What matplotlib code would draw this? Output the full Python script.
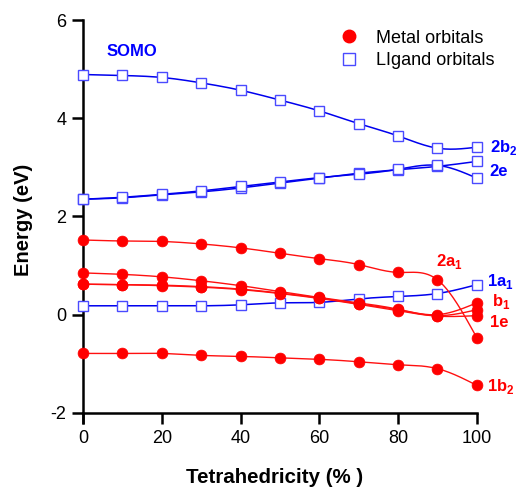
import numpy as np
import matplotlib.pyplot as plt

plt.rcParams["font.family"] = ["Liberation Sans", "DejaVu Sans"]
plt.rcParams["mathtext.fontset"] = "custom"
plt.rcParams["mathtext.rm"] = "Liberation Sans"
plt.rcParams["mathtext.bf"] = "Liberation Sans:bold"
plt.rcParams["axes.unicode_minus"] = False

tetra = [0, 10, 20, 30, 40, 50, 60, 70, 80, 90, 100]

# ligand orbitals
lig_2b2 = [4.89, 4.87, 4.83, 4.72, 4.57, 4.37, 4.15, 3.89, 3.64, 3.39, 3.41]
lig_2e_a = [2.35, 2.38, 2.44, 2.50, 2.58, 2.68, 2.78, 2.88, 2.95, 3.02, 3.12]
lig_2e_b = [2.35, 2.39, 2.45, 2.52, 2.61, 2.70, 2.79, 2.86, 2.96, 3.04, 2.78]
lig_1a1 = [0.18, 0.18, 0.18, 0.18, 0.20, 0.24, 0.25, 0.32, 0.37, 0.43, 0.61]

# metal orbitals
met_2a1 = [1.52, 1.50, 1.49, 1.44, 1.36, 1.25, 1.14, 1.02, 0.86, 0.71, -0.47]
met_b1 = [0.85, 0.82, 0.77, 0.69, 0.59, 0.47, 0.35, 0.24, 0.11, 0.00, 0.24]
met_1e_a = [0.62, 0.61, 0.60, 0.57, 0.52, 0.44, 0.34, 0.22, 0.10, -0.02, 0.10]
met_1e_b = [0.62, 0.61, 0.59, 0.56, 0.51, 0.43, 0.33, 0.21, 0.08, -0.03, -0.02]
met_1b2 = [-0.79, -0.79, -0.79, -0.83, -0.85, -0.88, -0.91, -0.96, -1.02, -1.10, -1.44]

ligand = [lig_2b2, lig_2e_a, lig_2e_b, lig_1a1]
metal = [met_2a1, met_b1, met_1e_a, met_1e_b, met_1b2]

labels = [
    ("SOMO", 6, 5.36, "blue"),
    ("2b$_\\mathbf{2}$", 103.3, 3.41, "blue"),
    ("2e", 103.3, 2.91, "blue"),
    ("2a$_\\mathbf{1}$", 89.6, 1.08, "red"),
    ("1a$_\\mathbf{1}$", 102.5, 0.67, "blue"),
    ("b$_\\mathbf{1}$", 103.8, 0.26, "red"),
    ("1e", 103.3, -0.16, "red"),
    ("1b$_\\mathbf{2}$", 102.5, -1.46, "red"),
]


def smooth(x, y, num=300):
    # natural cubic spline through the points
    x = np.asarray(x, float)
    y = np.asarray(y, float)
    n = len(x)
    h = np.diff(x)
    A = np.zeros((n, n))
    r = np.zeros(n)
    A[0, 0] = A[-1, -1] = 1
    for i in range(1, n - 1):
        A[i, i - 1] = h[i - 1]
        A[i, i] = 2 * (h[i - 1] + h[i])
        A[i, i + 1] = h[i]
        r[i] = 6 * ((y[i + 1] - y[i]) / h[i] - (y[i] - y[i - 1]) / h[i - 1])
    M = np.linalg.solve(A, r)
    xs = np.linspace(x[0], x[-1], num)
    k = np.clip(np.searchsorted(x, xs) - 1, 0, n - 2)
    hk = h[k]
    a = x[k + 1] - xs
    b = xs - x[k]
    ys = (M[k] * a**3 + M[k + 1] * b**3) / (6 * hk) \
        + (y[k] / hk - M[k] * hk / 6) * a + (y[k + 1] / hk - M[k + 1] * hk / 6) * b
    return xs, ys


fig = plt.figure(figsize=(5.16, 4.88), dpi=100)
ax = fig.add_axes([0.161, 0.154, 0.763, 0.805])

for s in ligand:
    xs, ys = smooth(tetra, s)
    ax.plot(xs, ys, color="#0000ee", lw=1.1, clip_on=False, zorder=2)
    ax.plot(tetra, s, ls="none", marker="s", ms=7.5, mfc="white",
            mec="#4a4aff", mew=1.0, clip_on=False, zorder=3)

for s in metal:
    xs, ys = smooth(tetra, s)
    ax.plot(xs, ys, color="#ff1010", lw=1.0, clip_on=False, zorder=4)
    ax.plot(tetra, s, ls="none", marker="o", ms=7.8, mfc="red",
            mec="red", mew=0.5, clip_on=False, zorder=5)

for txt, x, y, c in labels:
    ax.text(x, y, txt, color=c, fontsize=12, fontweight="bold",
            ha="left", va="center")

h1, = ax.plot([], [], ls="none", marker="o", ms=9, mfc="red", mec="red")
h2, = ax.plot([], [], ls="none", marker="s", ms=9, mfc="white", mec="#4a4aff")
ax.legend([h1, h2], ["Metal orbitals", "LIgand orbitals"], loc="upper left",
          bbox_to_anchor=(0.61, 1.017), frameon=False, fontsize=13,
          handlelength=1.0, handletextpad=1.0, labelspacing=0.3)

ax.set_xlim(0, 100)
ax.set_ylim(-2, 6)
ax.set_xticks([0, 20, 40, 60, 80, 100])
ax.set_yticks([-2, 0, 2, 4, 6])
ax.tick_params(direction="out", length=8, width=1.8, labelsize=13, pad=4)
for side in ["top", "right"]:
    ax.spines[side].set_visible(False)
for side in ["left", "bottom"]:
    ax.spines[side].set_linewidth(1.8)
# left spine runs down past the x axis, as in the original
ax.plot([0, 0], [0, -0.028], transform=ax.transAxes, color="black",
        lw=1.8, clip_on=False, solid_capstyle="butt")

ax.set_xlabel("Tetrahedricity (% )", fontsize=14.8, fontweight="bold")
ax.set_ylabel("Energy (eV)", fontsize=14.5, fontweight="bold")
ax.xaxis.set_label_coords(0.487, -0.14)
ax.yaxis.set_label_coords(-0.127, 0.49)

fig.savefig("out.png", dpi=100)
